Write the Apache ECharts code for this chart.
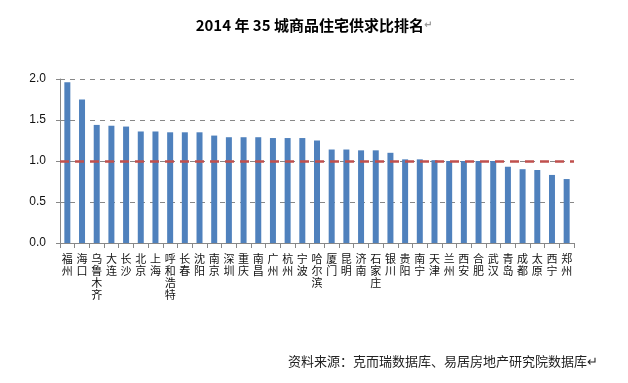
<!DOCTYPE html>
<html><head><meta charset="utf-8">
<script src="https://cdn.jsdelivr.net/npm/echarts@6/dist/echarts.min.js"></script>
<style>html,body{margin:0;padding:0;background:#fff}#c{width:628px;height:383px}</style>
</head><body><div id="c"></div>
<script>
var categories = ['福州','海口','乌鲁木齐','大连','长沙','北京','上海','呼和浩特','长春','沈阳','南京','深圳','重庆','南昌','广州','杭州','宁波','哈尔滨','厦门','昆明','济南','石家庄','银川','贵阳','南宁','天津','兰州','西安','合肥','武汉','青岛','成都','太原','西宁','郑州'];
var ratios = [1.96,1.75,1.44,1.43,1.42,1.36,1.36,1.35,1.35,1.35,1.31,1.29,1.29,1.29,1.28,1.28,1.28,1.25,1.14,1.14,1.13,1.13,1.10,1.02,1.02,1.01,1.00,1.00,1.00,1.00,0.93,0.90,0.89,0.83,0.78];
var baseline = 1.0;
var yTicks = {min:0, max:2.0, interval:0.5};
var titleText = '2014 年 35 城商品住宅供求比排名';
var sourceText = '资料来源：克而瑞数据库、易居房地产研究院数据库';

var chart = echarts.init(document.getElementById('c'));
chart.setOption({
  backgroundColor:'#fff',
  animation:false,
  title:{
    text:'{t|'+titleText+'}{m|↵}',
    left:'center', top:13,
    textStyle:{rich:{
      t:{fontSize:15,fontWeight:'bold',color:'#000',fontFamily:'"Noto Sans CJK SC", sans-serif'},
      m:{fontSize:10,color:'#999',fontFamily:'"DejaVu Sans"'}
    }}
  },
  graphic:[{
    type:'text', right:30, top:355,
    style:{text:sourceText+'↵', fontSize:13, fill:'#222', fontFamily:'"Noto Sans CJK SC", sans-serif'}
  }],
  grid:{left:60, right:54, top:79, bottom:140, containLabel:false},
  xAxis:{
    type:'category', data:categories,
    axisLine:{lineStyle:{color:'#888',width:1}},
    axisTick:{show:true, length:5, lineStyle:{color:'#888'}},
    axisLabel:{interval:0, margin:10, fontSize:11, lineHeight:12, color:'#111',
      fontFamily:'"Noto Sans CJK SC", sans-serif',
      formatter:function(v){return v.split('').join('\n');}, verticalAlign:'top'}
  },
  yAxis:{
    type:'value', min:yTicks.min, max:yTicks.max, interval:yTicks.interval,
    axisLine:{show:true, lineStyle:{color:'#888'}},
    axisTick:{show:true, length:4, lineStyle:{color:'#888'}},
    axisLabel:{fontSize:12, color:'#111', margin:14, fontFamily:'"Liberation Sans", sans-serif',
      formatter:function(v){return v.toFixed(1);}},
    splitLine:{show:true, lineStyle:{color:'#888', type:[5,5], width:1}}
  },
  series:[{
    type:'bar', data:ratios, barWidth:6,
    itemStyle:{color:'#4F81BD'},
    markLine:{
      silent:true, symbol:'none',
      label:{show:false},
      lineStyle:{color:'#C0504D', type:[9,6], width:2.5},
      data:[{yAxis:baseline}]
    }
  }]
});
</script></body></html>
